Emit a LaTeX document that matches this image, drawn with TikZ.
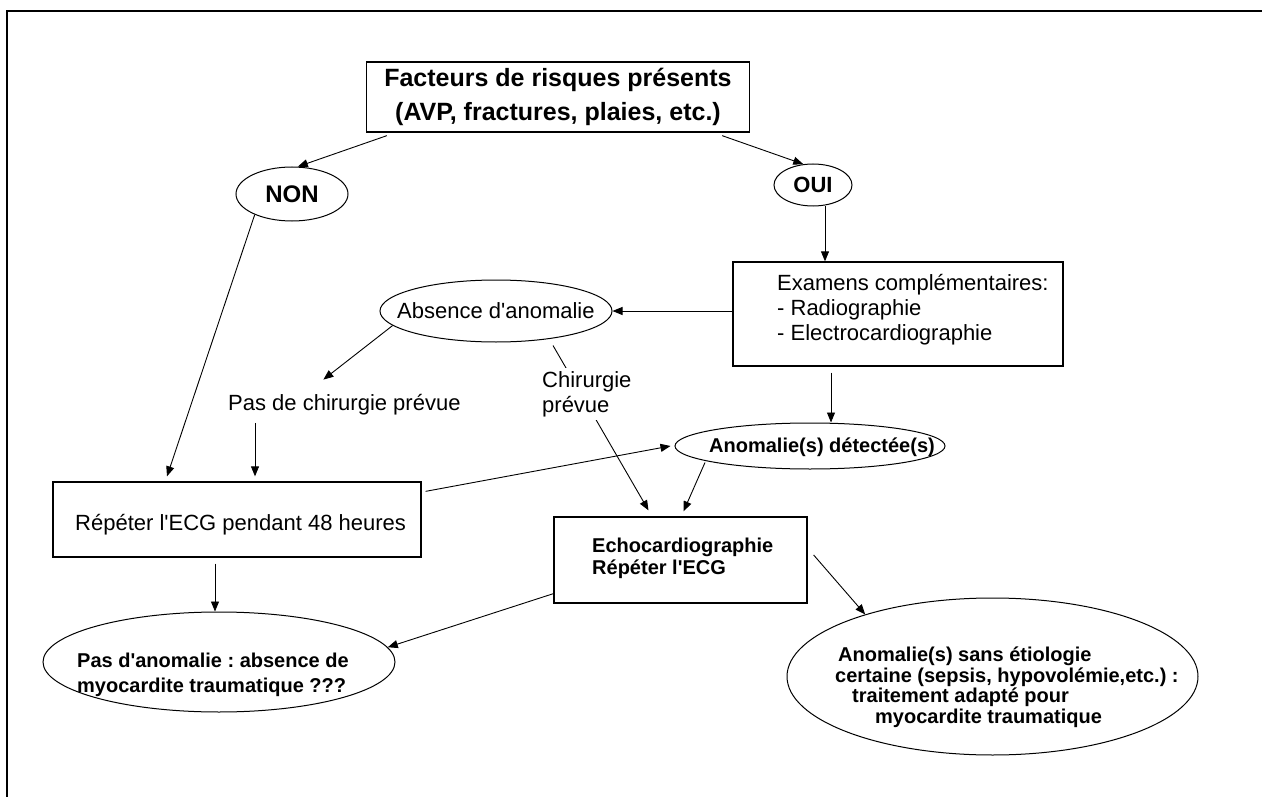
\documentclass[tikz,border=0pt]{standalone}
\usepackage{fontspec}
\setmainfont{Liberation Sans}[Ligatures=TeXOff]
\usetikzlibrary{shapes.geometric,arrows.meta,calc}
\frenchspacing

\tikzset{
  cadre/.style={draw,line width=1.3pt,inner sep=0pt},
  bulle/.style={draw,ellipse,line width=1pt,inner sep=0pt},
  gras/.style={inner sep=0pt,align=left,font=\bfseries\fontsize{20}{25}\selectfont},
  fin/.style={inner sep=0pt,align=left,font=\fontsize{22}{25}\selectfont},
  fleche/.style={-{Triangle[length=10pt,width=8pt]},line width=0.9pt},
}

\begin{document}
\begin{tikzpicture}[x=1pt,y=-1pt]
\useasboundingbox (0,0) rectangle (1262,797);
% cadre
\draw[line width=2pt] (7,797) -- (7,11) -- (1262,11);

% haut
\node[cadre,minimum width=383pt,minimum height=70pt,align=center,font=\bfseries\fontsize{25}{34}\selectfont] (facteurs) at (558,97) {Facteurs de risques présents\\(AVP, fractures, plaies, etc.)};
\node[bulle,minimum width=112pt,minimum height=54pt,font=\bfseries\fontsize{24}{28}\selectfont] (non) at (292,194) {NON};
\node[bulle,minimum width=78pt,minimum height=42pt,font=\bfseries\fontsize{22}{26}\selectfont] (oui) at (813,185) {OUI};

% examens
\node[cadre,minimum width=330pt,minimum height=104pt] (examens) at (898,314) {};
\node[fin,anchor=base west] (examtxt) at (777,340) {Examens complémentaires:\\- Radiographie\\- Electrocardiographie};
\node[bulle,minimum width=232pt,minimum height=62pt] (absence) at (496,311) {};
\node[fin,anchor=base west] (abstxt) at (397,318) {Absence d'anomalie};
\node[fin,anchor=base west] (pasch) at (228,410) {Pas de chirurgie prévue};

% milieu
\node[cadre,minimum width=368pt,minimum height=75pt] (repeter) at (237,519.5) {};
\node[fin,anchor=base west] (reptxt) at (75,530) {Répéter l'ECG pendant 48 heures};
\node[bulle,minimum width=270pt,minimum height=46pt] (anomalies) at (810,446) {};
\node[gras,anchor=base west] (anotxt) at (709,452) {Anomalie(s) détectée(s)};
\node[cadre,minimum width=253pt,minimum height=86pt] (echo) at (680.5,560) {};
\node[gras,anchor=base west,font=\bfseries\fontsize{20}{22}\selectfont] (echotxt) at (592,574) {Echocardiographie\\Répéter l'ECG};

% bas
\node[bulle,minimum width=352pt,minimum height=100pt] (pasanom) at (219,662) {};
\node[gras,anchor=base west] (pasatxt) at (77,692) {Pas d'anomalie : absence de\\myocardite traumatique ???};
\node[bulle,minimum width=411pt,minimum height=157pt] (sans) at (992.5,676.5) {};
\node[gras,anchor=base west,font=\bfseries\fontsize{20}{20.5}\selectfont] (sanstxt) at (835,723) {\hspace*{3pt}Anomalie(s) sans étiologie\\certaine (sepsis, hypovolémie,etc.) :\\\hspace*{17pt}traitement adapté pour\\\hspace*{40pt}myocardite traumatique};

% fleches
\draw[fleche] ($(facteurs.south west)+(21,3)$) -- (non.78);
\draw[fleche] ($(facteurs.south east)+(-28,3)$) -- (oui.115);
\draw[fleche] ($(oui.south)+(12,0)$) -- ($(examens.north)+(-73,0)$);
\draw[fleche] (examens.west |- absence.east) -- (absence.east);
\draw[fleche] (absence.188) -- ($(pasch.north)+(-21,-14)$);
\draw[fleche] ($(repeter.north |- pasch.south)+(18,8)$) -- ($(repeter.north)+(18,-5)$);
\draw[fleche] (non.209) -- ($(repeter.north)+(-70,-5)$);
\draw[fleche] ($(repeter.north east)+(4,10)$) -- ($(anomalies.west)+(-4,0)$);
\draw[fleche] ($(examens.south)+(-67,6)$) -- ($(examens.south |- anomalies.north)+(-67,0)$);
\draw[fleche] ($(absence.south)+(57,3)$) -- ($(echo.north)+(-32,-6)$);
\node[fin,anchor=base west,inner sep=3pt,fill=white] (chir) at (539,412) {Chirurgie\\prévue};
\draw[fleche] ($(anomalies.south)+(-105,-7)$) -- ($(echo.north)+(3,-5)$);
\draw[fleche] ($(echo.east)+(6,-5)$) -- (sans.154);
\draw[fleche] ($(echo.south west)+(0,-10)$) -- (pasanom.5);
\draw[fleche] ($(repeter.south)+(-22,6)$) -- ($(repeter.south |- pasanom.north)+(-22,0)$);
\end{tikzpicture}
\end{document}
